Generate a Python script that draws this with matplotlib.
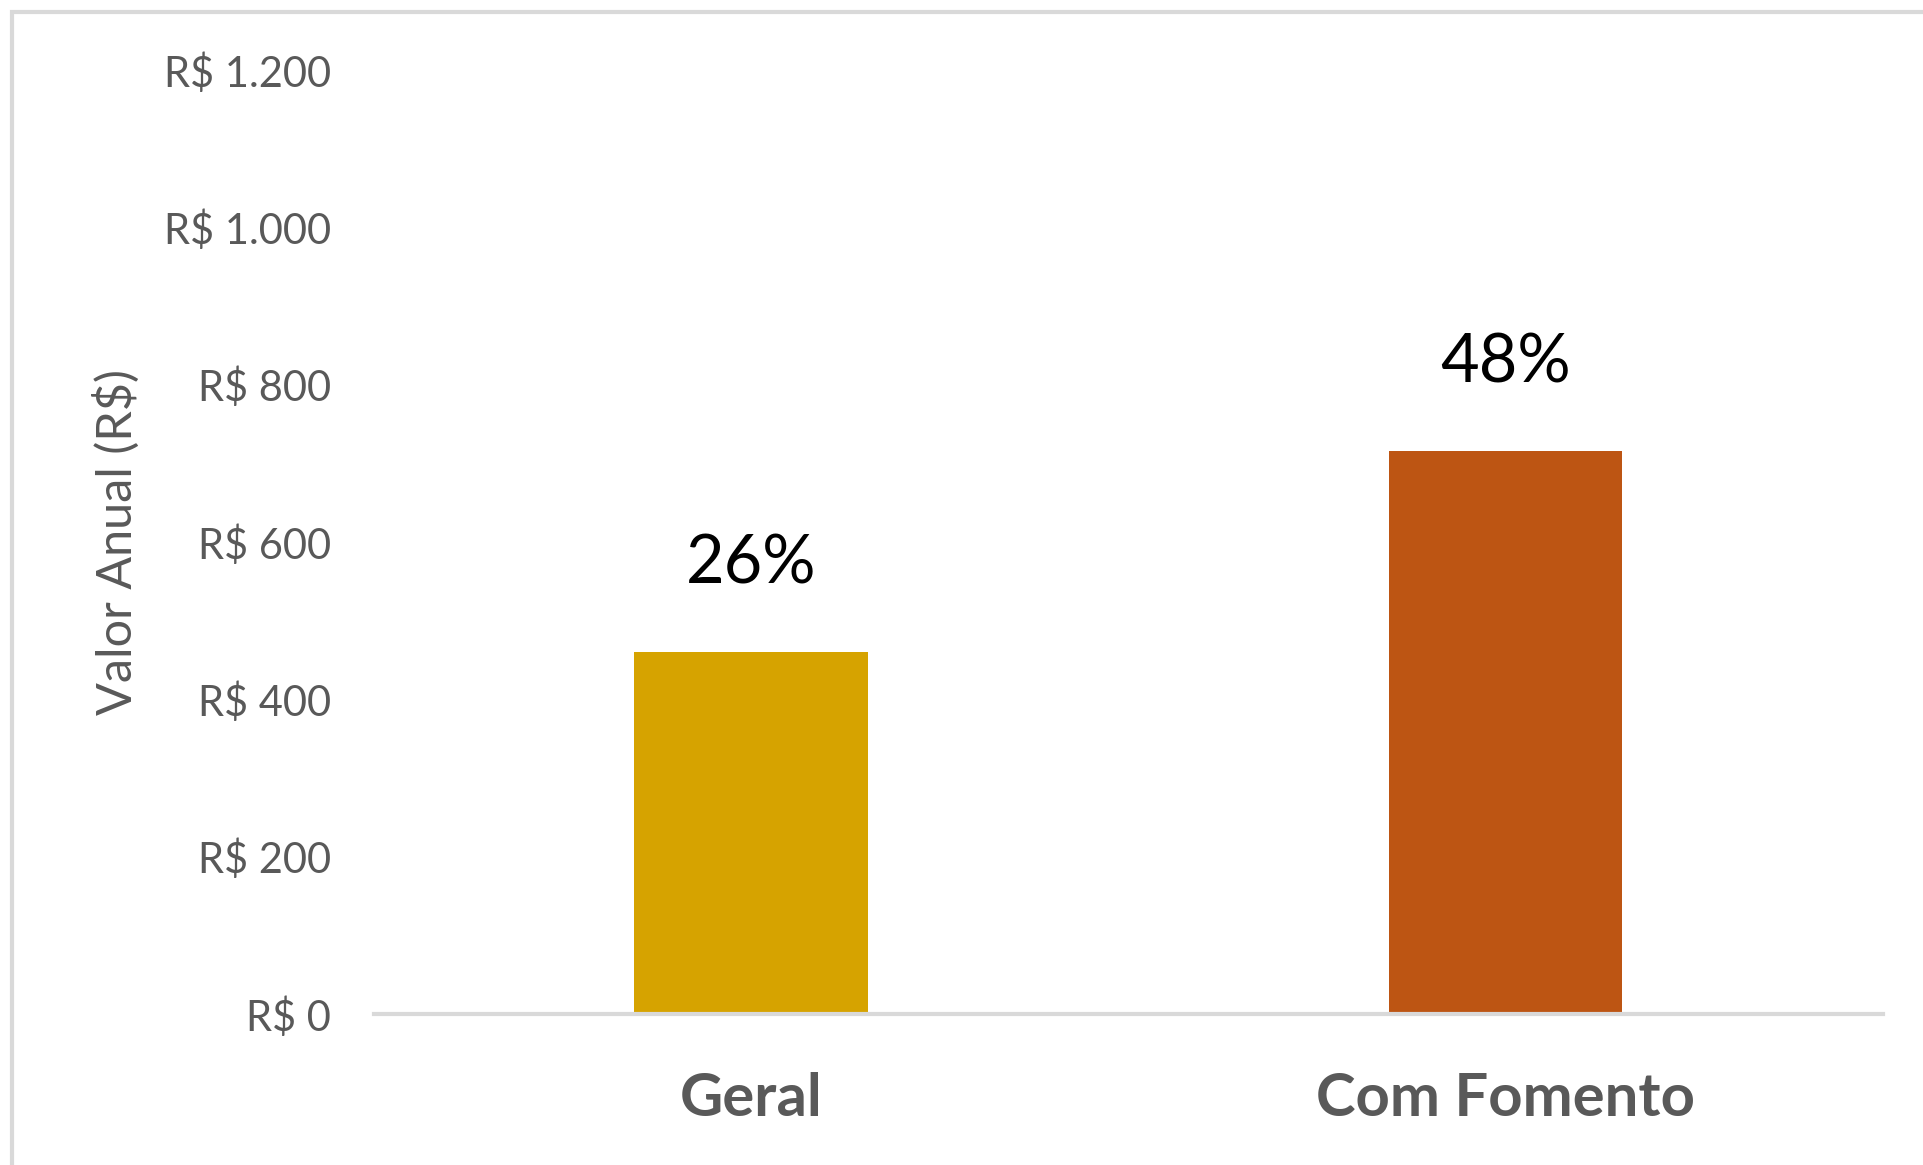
import matplotlib.pyplot as plt
from matplotlib.patches import Rectangle
from matplotlib.ticker import FuncFormatter

categories = ["Geral", "Com Fomento"]
valores = [460, 716]
percentuais = ["26%", "48%"]
cores = ["#D6A300", "#BD5513"]
yticks = [0, 200, 400, 600, 800, 1000, 1200]

plt.rcParams["font.family"] = ["Lato", "DejaVu Sans"]

fig = plt.figure(figsize=(19.23, 11.65), dpi=100)
ax = fig.add_axes([0.1945, 0.1296, 0.7845, 0.8104])

x = range(len(categories))
bars = ax.bar(x, valores, width=0.31, color=cores)

for b, p in zip(bars, percentuais):
    ax.text(b.get_x() + b.get_width() / 2, b.get_height() + 72, p,
            ha="center", va="bottom", fontsize=48, color="black")

ax.set_xlim(-0.5, 1.5)
ax.set_ylim(0, 1200)
ax.set_yticks(yticks)
ax.yaxis.set_major_formatter(FuncFormatter(lambda v, _: "R$ " + f"{int(v):,}".replace(",", ".")))
ax.set_xticks(list(x))
ax.set_xticklabels(categories, fontsize=43, fontweight="bold", color="#595959")
ax.tick_params(axis="y", labelsize=30, labelcolor="#595959", length=0, pad=31)
ax.tick_params(axis="x", length=0, pad=42)

for s in ["top", "right", "left"]:
    ax.spines[s].set_visible(False)
ax.spines["bottom"].set_color("#D9D9D9")
ax.spines["bottom"].set_linewidth(3)

ax.set_ylabel("Valor Anual (R$)", fontsize=35, color="#595959", labelpad=17)

# light grey chart-area border (cut off at right and bottom)
fig.patches.append(Rectangle((12 / 1923, -0.1), 1.2, 1 - 12 / 1165 + 0.1,
                             transform=fig.transFigure, fill=False,
                             edgecolor="#D9D9D9", linewidth=3))

fig.savefig("out.png", dpi=100)
